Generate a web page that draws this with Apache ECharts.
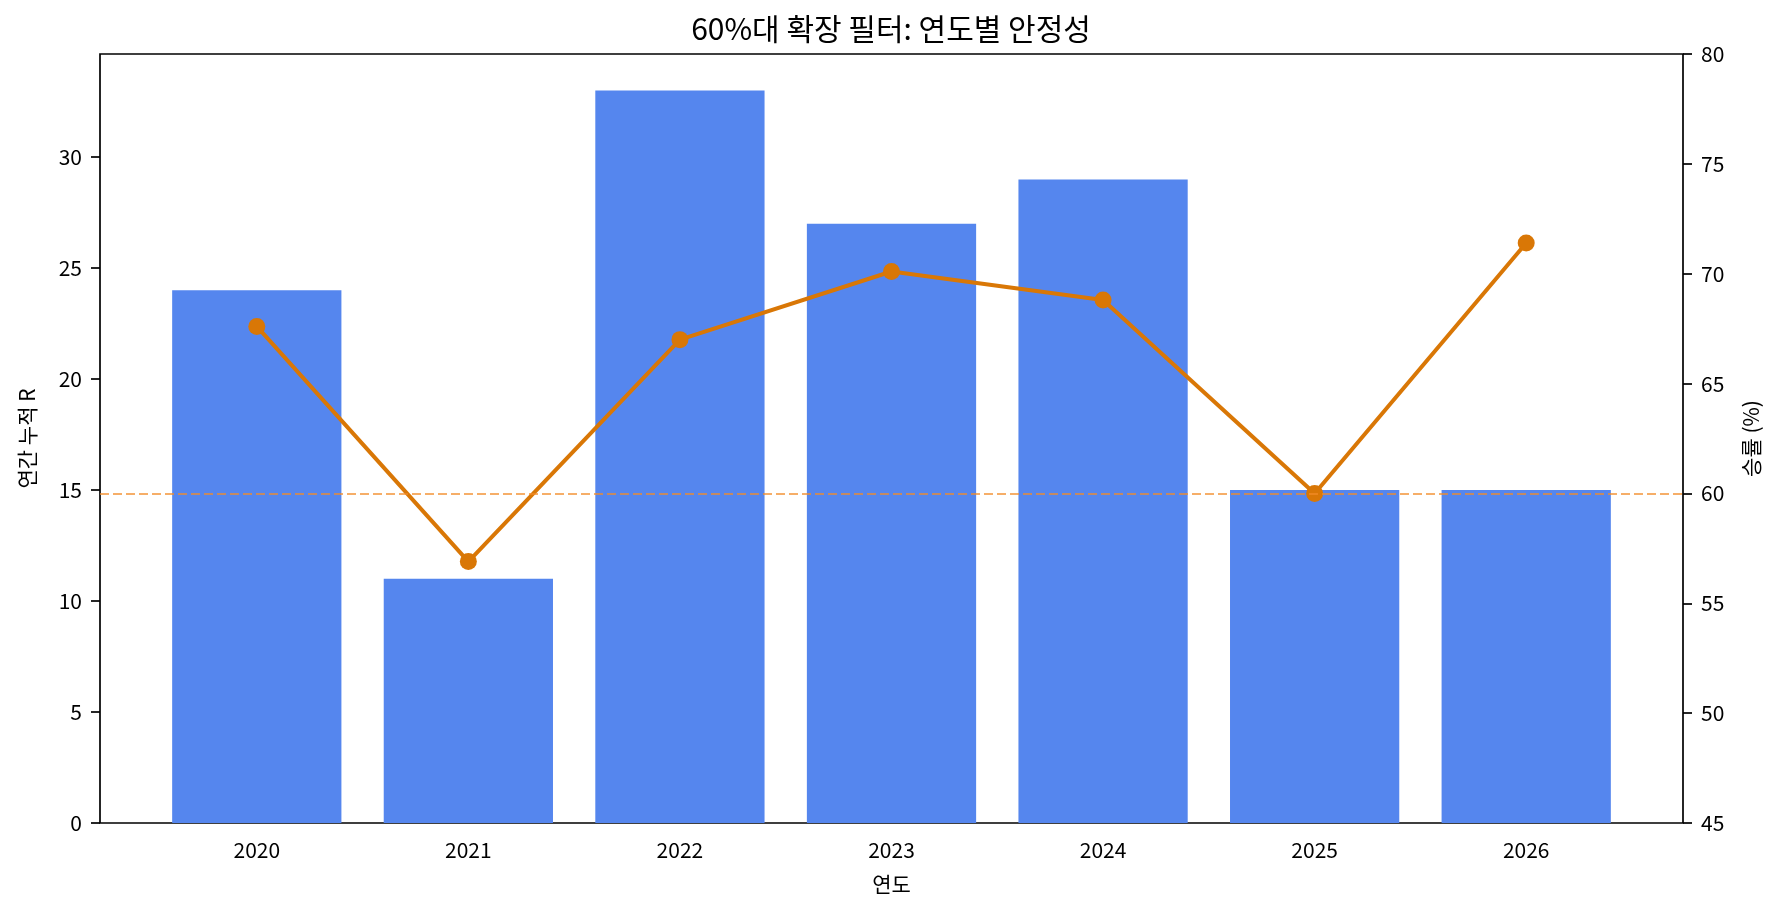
<!DOCTYPE html>
<html>
<head>
<meta charset="utf-8">
<script src="https://cdn.jsdelivr.net/npm/echarts@6/dist/echarts.min.js"></script>
<style>
  html, body { margin: 0; padding: 0; background: #fff; }
  #main { width: 1782px; height: 917px; }
</style>
</head>
<body>
<div id="main"></div>
<script>
var years = ['2020', '2021', '2022', '2023', '2024', '2025', '2026'];
var cumR = [24, 11, 33, 27, 29, 15, 15];
var winRate = [67.6, 56.9, 67.0, 70.1, 68.8, 60.0, 71.4];
var leftTicks = [0, 5, 10, 15, 20, 25, 30];
var leftMax = 34.65;
var rightMin = 45, rightMax = 80;
var refRate = 60;

var FONT = '"Noto Sans CJK KR", "Noto Sans", sans-serif';

var myChart = echarts.init(document.getElementById('main'));

var tickStyle = { color: '#000', width: 1.7 };

option = {
    backgroundColor: '#fff',
    animation: false,
    textStyle: { fontFamily: FONT },
    title: {
        text: '60%대 확장 필터: 연도별 안정성',
        left: 'center',
        top: 9,
        textStyle: { fontFamily: FONT, fontSize: 30, fontWeight: 'normal', color: '#000' }
    },
    grid: [
        // frame (matplotlib axes box)
        { left: 100, right: 99, top: 54, bottom: 94, show: true, borderColor: '#000', borderWidth: 1.7, backgroundColor: 'transparent' },
        // data area, category band -0.5..6.5 inside the -0.74..6.74 frame
        { left: 151, right: 150, top: 54, bottom: 94 }
    ],
    xAxis: [
        { gridIndex: 0, type: 'value', min: 0, max: 1, show: false },
        {
            gridIndex: 1,
            type: 'category',
            data: years,
            name: '연도',
            nameLocation: 'middle',
            nameGap: 51,
            nameTextStyle: { fontFamily: FONT, fontSize: 21, color: '#000' },
            axisLine: { show: false },
            axisTick: { alignWithLabel: true, length: 9, lineStyle: tickStyle },
            axisLabel: { fontFamily: FONT, fontSize: 21, color: '#000', margin: 17 },
            splitLine: { show: false }
        }
    ],
    yAxis: [
        {
            gridIndex: 0,
            type: 'value',
            position: 'left',
            min: 0,
            max: leftMax,
            name: '연간 누적 R',
            nameLocation: 'middle',
            nameRotate: 90,
            nameGap: 62,
            nameTextStyle: { fontFamily: FONT, fontSize: 21, color: '#000' },
            axisLine: { show: false },
            axisTick: { show: true, length: 9, lineStyle: tickStyle, customValues: leftTicks },
            axisLabel: { fontFamily: FONT, fontSize: 21, color: '#000', margin: 18, customValues: leftTicks },
            splitLine: { show: false }
        },
        {
            gridIndex: 0,
            type: 'value',
            position: 'right',
            min: rightMin,
            max: rightMax,
            interval: 5,
            name: '승률 (%)',
            nameLocation: 'middle',
            nameRotate: 90,
            nameGap: 58,
            nameTextStyle: { fontFamily: FONT, fontSize: 21, color: '#000' },
            axisLine: { show: false },
            axisTick: { show: true, length: 9, lineStyle: tickStyle },
            axisLabel: { fontFamily: FONT, fontSize: 21, color: '#000', margin: 18 },
            splitLine: { show: false }
        },
        { gridIndex: 1, type: 'value', min: 0, max: leftMax, show: false },
        { gridIndex: 1, type: 'value', min: rightMin, max: rightMax, show: false }
    ],
    series: [
        {
            name: '연간 누적 R',
            type: 'bar',
            xAxisIndex: 1,
            yAxisIndex: 2,
            barWidth: '80%',
            itemStyle: { color: '#5586ee' },
            z: 2,
            data: cumR
        },
        {
            name: 'ref',
            type: 'line',
            xAxisIndex: 0,
            yAxisIndex: 1,
            data: [],
            z: 3,
            markLine: {
                silent: true,
                symbol: ['none', 'none'],
                label: { show: false },
                lineStyle: { color: 'rgba(242,140,40,0.7)', width: 2, type: [9, 4] },
                data: [{ yAxis: refRate }]
            }
        },
        {
            name: '승률',
            type: 'line',
            xAxisIndex: 1,
            yAxisIndex: 3,
            symbol: 'circle',
            symbolSize: 17,
            lineStyle: { color: '#d97706', width: 4 },
            itemStyle: { color: '#d97706' },
            z: 4,
            data: winRate
        }
    ]
};
myChart.setOption(option);
</script>
</body>
</html>
